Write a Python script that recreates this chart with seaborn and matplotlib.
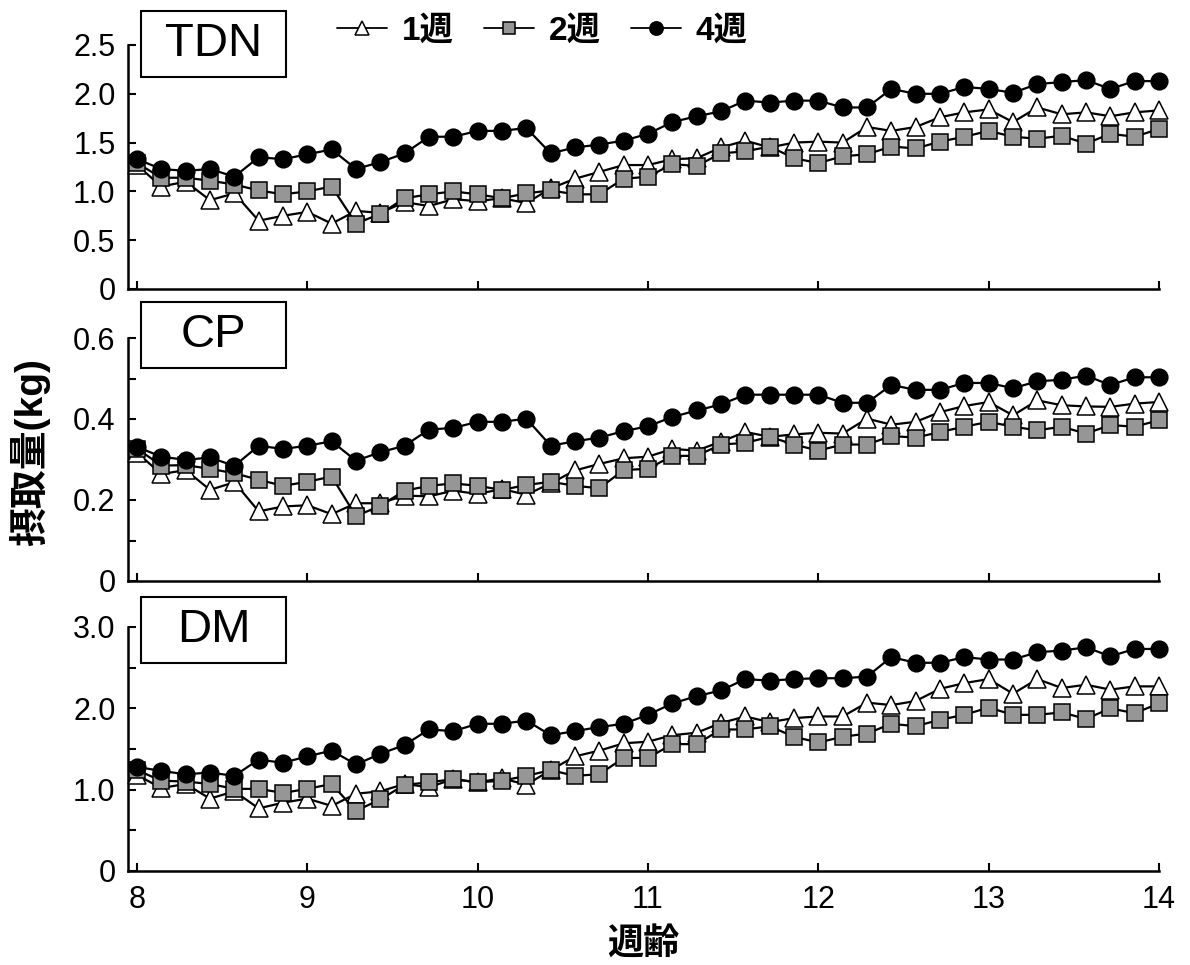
import numpy as np
import pandas as pd
import matplotlib
matplotlib.use("Agg")
import matplotlib.pyplot as plt
import seaborn as sns
from matplotlib.patches import Rectangle
from matplotlib.ticker import MultipleLocator, FuncFormatter

# ---------------- data ----------------
age_days = np.arange(56, 99)          # daily records, 8 to 14 weeks of age
weeks = age_days / 7.0

groups = ["1週", "2週", "4週"]
nutrients = ["TDN", "CP", "DM"]

TDN_1 = [1.27, 1.05, 1.10, 0.91, 0.98, 0.70, 0.75, 0.79, 0.67, 0.80, 0.78, 0.89, 0.85, 0.92, 0.90,
         0.93, 0.88, 1.03, 1.13, 1.20, 1.27, 1.27, 1.33, 1.34, 1.45, 1.52, 1.45, 1.50, 1.51, 1.50,
         1.66, 1.62, 1.66, 1.76, 1.81, 1.84, 1.71, 1.86, 1.79, 1.81, 1.77, 1.81, 1.83]
TDN_2 = [1.29, 1.14, 1.14, 1.11, 1.07, 1.01, 0.97, 1.00, 1.05, 0.67, 0.77, 0.93, 0.97, 1.00, 0.97,
         0.93, 0.98, 1.01, 0.97, 0.97, 1.13, 1.15, 1.28, 1.26, 1.39, 1.41, 1.46, 1.34, 1.29, 1.36,
         1.38, 1.46, 1.44, 1.51, 1.56, 1.62, 1.56, 1.54, 1.57, 1.49, 1.59, 1.56, 1.64]
TDN_4 = [1.33, 1.23, 1.21, 1.23, 1.15, 1.35, 1.33, 1.38, 1.43, 1.23, 1.30, 1.39, 1.56, 1.56, 1.62,
         1.62, 1.65, 1.39, 1.45, 1.48, 1.52, 1.59, 1.71, 1.77, 1.82, 1.93, 1.91, 1.93, 1.93, 1.86,
         1.86, 2.05, 2.00, 2.00, 2.07, 2.05, 2.01, 2.10, 2.12, 2.14, 2.05, 2.13, 2.13]

CP_1 = [0.317, 0.264, 0.274, 0.225, 0.244, 0.172, 0.184, 0.187, 0.165, 0.192, 0.192, 0.211, 0.209,
        0.223, 0.215, 0.227, 0.213, 0.241, 0.273, 0.289, 0.303, 0.307, 0.326, 0.322, 0.344, 0.368,
        0.356, 0.362, 0.366, 0.364, 0.401, 0.386, 0.393, 0.417, 0.432, 0.442, 0.409, 0.446, 0.434,
        0.431, 0.430, 0.438, 0.442]
CP_2 = [0.327, 0.285, 0.286, 0.277, 0.266, 0.250, 0.235, 0.245, 0.258, 0.160, 0.186, 0.223, 0.235,
        0.241, 0.235, 0.225, 0.237, 0.245, 0.235, 0.229, 0.274, 0.277, 0.309, 0.309, 0.337, 0.341,
        0.356, 0.337, 0.322, 0.337, 0.337, 0.358, 0.354, 0.368, 0.381, 0.393, 0.381, 0.372, 0.381,
        0.364, 0.385, 0.381, 0.397]
CP_4 = [0.331, 0.307, 0.299, 0.305, 0.284, 0.334, 0.326, 0.334, 0.345, 0.297, 0.318, 0.334, 0.374,
        0.378, 0.393, 0.393, 0.401, 0.334, 0.345, 0.354, 0.370, 0.382, 0.405, 0.421, 0.436, 0.460,
        0.460, 0.460, 0.460, 0.440, 0.440, 0.484, 0.472, 0.472, 0.489, 0.489, 0.476, 0.493, 0.497,
        0.507, 0.484, 0.503, 0.503]

DM_1 = [1.18, 1.02, 1.07, 0.89, 0.98, 0.77, 0.84, 0.89, 0.80, 0.95, 0.98, 1.07, 1.03, 1.13, 1.09,
        1.14, 1.06, 1.24, 1.41, 1.48, 1.57, 1.59, 1.67, 1.70, 1.82, 1.90, 1.83, 1.88, 1.90, 1.90,
        2.07, 2.04, 2.09, 2.24, 2.31, 2.36, 2.18, 2.36, 2.25, 2.29, 2.23, 2.27, 2.27]
DM_2 = [1.24, 1.11, 1.10, 1.07, 1.01, 1.01, 0.96, 1.01, 1.07, 0.74, 0.88, 1.06, 1.09, 1.13, 1.09,
        1.11, 1.17, 1.24, 1.17, 1.19, 1.39, 1.39, 1.56, 1.56, 1.74, 1.74, 1.78, 1.65, 1.58, 1.65,
        1.69, 1.81, 1.78, 1.86, 1.92, 2.01, 1.92, 1.92, 1.95, 1.87, 2.00, 1.94, 2.06]
DM_4 = [1.28, 1.23, 1.19, 1.21, 1.17, 1.37, 1.33, 1.41, 1.48, 1.31, 1.44, 1.55, 1.74, 1.72, 1.81,
        1.81, 1.85, 1.67, 1.72, 1.77, 1.81, 1.92, 2.06, 2.15, 2.22, 2.36, 2.34, 2.36, 2.37, 2.37,
        2.39, 2.63, 2.56, 2.56, 2.63, 2.60, 2.60, 2.69, 2.71, 2.75, 2.64, 2.73, 2.73]

series = {
    "TDN": {"1週": TDN_1, "2週": TDN_2, "4週": TDN_4},
    "CP": {"1週": CP_1, "2週": CP_2, "4週": CP_4},
    "DM": {"1週": DM_1, "2週": DM_2, "4週": DM_4},
}

y_max = {"TDN": 2.5, "CP": 0.6, "DM": 3.0}
y_major = {"TDN": 0.5, "CP": 0.2, "DM": 1.0}
y_minor = {"TDN": 0.5, "CP": 0.1, "DM": 0.5}
x_ticks = [8, 9, 10, 11, 12, 13, 14]

rows = []
for n in nutrients:
    for g in groups:
        for w, v in zip(weeks, series[n][g]):
            rows.append({"nutrient": n, "group": g, "week": w, "value": v})
df = pd.DataFrame(rows)

# ---------------- style ----------------
sns.set_theme(style="ticks")
plt.rcParams["font.family"] = ["Liberation Sans", "Noto Sans CJK JP", "DejaVu Sans"]
for k in ["text.color", "axes.labelcolor", "xtick.color", "ytick.color", "axes.edgecolor"]:
    plt.rcParams[k] = "black"

marker_style = {
    "1週": dict(marker="^", markerfacecolor="white", markersize=12.5),
    "2週": dict(marker="s", markerfacecolor="#969696", markersize=11.5),
    "4週": dict(marker="o", markerfacecolor="black", markersize=12),
}

W, H = 1190, 965
fig = plt.figure(figsize=(W / 100, H / 100), dpi=100)

left_px, right_px = 128, 1159
x0_px = 137
px_per_week = (right_px - x0_px) / 6.0
xmin = 8 - (x0_px - left_px) / px_per_week

panel_px = {"TDN": (45, 289), "CP": (338, 581), "DM": (627, 871)}
box_px = {"TDN": (11, 77), "CP": (302, 368), "DM": (597, 663)}

fmt = FuncFormatter(lambda v, p: "0" if abs(v) < 1e-9 else f"{v:.1f}")

axes = {}
for i, n in enumerate(nutrients):
    top, bot = panel_px[n]
    ax = fig.add_axes([left_px / W, 1 - bot / H, (right_px - left_px) / W, (bot - top) / H])
    axes[n] = ax
    sub = df[df["nutrient"] == n]
    for g in groups:
        sns.lineplot(data=sub[sub["group"] == g], x="week", y="value", ax=ax,
                     color="black", linewidth=1.6, markeredgecolor="black",
                     markeredgewidth=1.1, label=g, clip_on=False, zorder=3,
                     errorbar=None, **marker_style[g])
    ax.set_xlim(xmin, 14)
    ax.set_ylim(0, y_max[n])
    ax.set_xticks(x_ticks)
    ax.yaxis.set_major_locator(MultipleLocator(y_major[n]))
    ax.yaxis.set_minor_locator(MultipleLocator(y_minor[n]))
    ax.yaxis.set_major_formatter(fmt)
    ax.tick_params(axis="both", which="both", direction="in", length=6, width=1.5,
                   labelsize=22, pad=9, colors="black", labelcolor="black")
    ax.tick_params(axis="x", pad=10)
    if n != "DM":
        ax.tick_params(axis="x", labelbottom=False)
    ax.set_xlabel("")
    ax.set_ylabel("")
    sns.despine(ax=ax)
    for s in ["left", "bottom"]:
        ax.spines[s].set_linewidth(1.8)
        ax.spines[s].set_color("black")
    ax.set_facecolor("none")
    handles, labels = ax.get_legend_handles_labels()
    ax.get_legend().remove()

    bt, bb = box_px[n]
    rect = Rectangle((141 / W, 1 - bb / H), 145 / W, (bb - bt) / H, transform=fig.transFigure,
                     facecolor="white", edgecolor="black", linewidth=1.5, zorder=5)
    fig.patches.append(rect)
    fig.text((141 + 145 / 2) / W, 1 - (bt + bb) / 2 / H, n, ha="center", va="center",
             fontsize=34, color="black", zorder=6)

leg = fig.legend(handles, labels, loc="center", bbox_to_anchor=(542 / W, 1 - 31 / H), ncol=3,
                 frameon=False, prop={"size": 24, "weight": "bold"}, handlelength=1.5,
                 columnspacing=0.9, handletextpad=0.45, markerscale=0.8)
for t in leg.get_texts():
    t.set_color("black")
for h in leg.legend_handles:
    h.set_linewidth(1.3)

fig.text(30 / W, 1 - 452 / H, "摂取量(kg)", rotation=90, ha="center", va="center",
         fontsize=28, fontweight="bold", color="black")
fig.text(643 / W, 1 - 944 / H, "週齢", ha="center", va="center", fontsize=26,
         fontweight="bold", color="black")

fig.savefig("out.png", dpi=100, facecolor="white")
